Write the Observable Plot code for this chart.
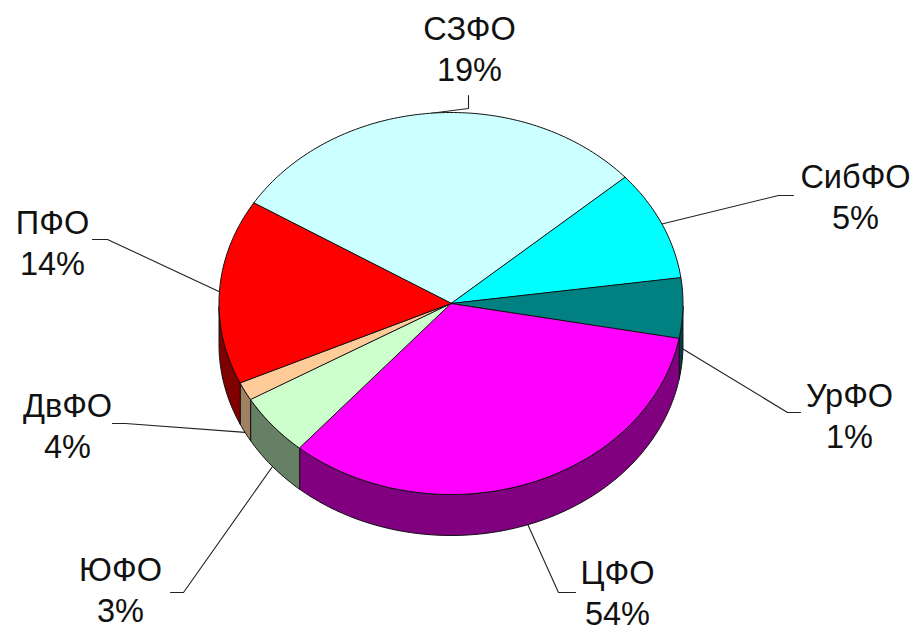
<!DOCTYPE html>
<html>
<head>
<meta charset="utf-8">
<style>html,body{margin:0;padding:0;background:#fff;overflow:hidden}svg{display:block}</style>
<script src="https://cdn.jsdelivr.net/npm/d3@7"></script>
<script src="https://cdn.jsdelivr.net/npm/@observablehq/plot@0.6"></script>
</head>
<body>
<div id="chart"></div>
<script>
const regions = ["СЗФО", "СибФО", "УрФО", "ЦФО", "ЮФО", "ДвФО", "ПФО"];
const labelled = [19, 5, 1, 54, 3, 4, 14];
// Slice sizes as drawn in the picture (degrees of the ellipse), which differ from the printed labels
const drawnDegrees = [106.9, 33.6, 18.3, 120.3, 19, 5.6, 56.3];
const topColors = ["#ccffff", "#00ffff", "#008080", "#ff00ff", "#ccffcc", "#ffcc99", "#ff0000"];
const sideColors = ["#668080", "#008080", "#004040", "#800080", "#668066", "#a08060", "#800000"];

// Layout of the tilted pie
const startAngle = 148.3, cx = 450.5, cy = 303, rx = 232, ry = 191, depth = 41;
const elbows = [[468, 108, 468, 95], [778, 195, 793, 195], [787, 412, 800, 412], [558, 592, 575, 592], [183, 592, 170, 592], [125, 423, 112, 423], [107, 239, 92, 239]];
const labelCenters = [[469, 47], [855, 195], [849, 414], [617, 591], [120, 588], [67, 424], [52, 241]];

const px = t => cx + rx * Math.cos(t * Math.PI / 180);
const py = t => cy - ry * Math.sin(t * Math.PI / 180);

let acc = startAngle;
const slices = regions.map((name, i) => {
  const from = acc, to = acc - drawnDegrees[i];
  acc = to;
  return {name, i, from, to, mid: (from + to) / 2};
});

const arc = (from, to) => {
  const n = Math.max(2, Math.ceil(Math.abs(from - to)));
  return d3.range(n + 1).map(k => from + (to - from) * k / n);
};

const tops = slices.flatMap(s => [
  {name: s.name, color: topColors[s.i], x: cx, y: cy},
  ...arc(s.from, s.to).map(t => ({name: s.name, color: topColors[s.i], x: px(t), y: py(t)}))
]);

// Side wall is visible on the lower half of the ellipse only
const norm = t => ((t % 360) + 360) % 360;
const sides = slices.flatMap(s => {
  const out = [];
  const ts = arc(s.from, s.to).filter(t => norm(t) >= 180);
  if (ts.length < 2) return out;
  ts.forEach(t => out.push({name: s.name, color: sideColors[s.i], x: px(t), y: py(t)}));
  ts.slice().reverse().forEach(t => out.push({name: s.name, color: sideColors[s.i], x: px(t), y: py(t) + depth}));
  return out;
});

const leaders = slices.flatMap(s => {
  const e = elbows[s.i];
  const below = norm(s.mid) > 180;
  return [
    {name: s.name, x: px(s.mid), y: py(s.mid) + (below ? depth : 0)},
    {name: s.name, x: e[0], y: e[1]},
    {name: s.name, x: e[2], y: e[3]}
  ];
});

const labels = slices.map(s => ({
  text: `${s.name}\n${labelled[s.i]}%`,
  x: labelCenters[s.i][0],
  y: labelCenters[s.i][1]
}));

const chart = Plot.plot({
  width: 914,
  height: 631,
  margin: 0,
  style: {background: "#fff", fontFamily: "'Liberation Sans', Arial, sans-serif"},
  x: {domain: [0, 914], range: [0, 914], axis: null},
  y: {domain: [0, 631], range: [0, 631], axis: null},
  color: {type: "identity"},
  marks: [
    Plot.line(leaders, {x: "x", y: "y", z: "name", stroke: "#222", strokeWidth: 1.1}),
    Plot.line(sides, {x: "x", y: "y", z: "name", fill: "color", stroke: "#111", strokeWidth: 1, curve: "linear-closed"}),
    Plot.line(tops, {x: "x", y: "y", z: "name", fill: "color", stroke: "#111", strokeWidth: 1, curve: "linear-closed"}),
    Plot.text(labels, {x: "x", y: "y", text: "text", fontSize: 32.5, lineHeight: 1.24, fill: "#111", textAnchor: "middle"})
  ]
});
document.getElementById("chart").append(chart);
</script>
</body>
</html>
